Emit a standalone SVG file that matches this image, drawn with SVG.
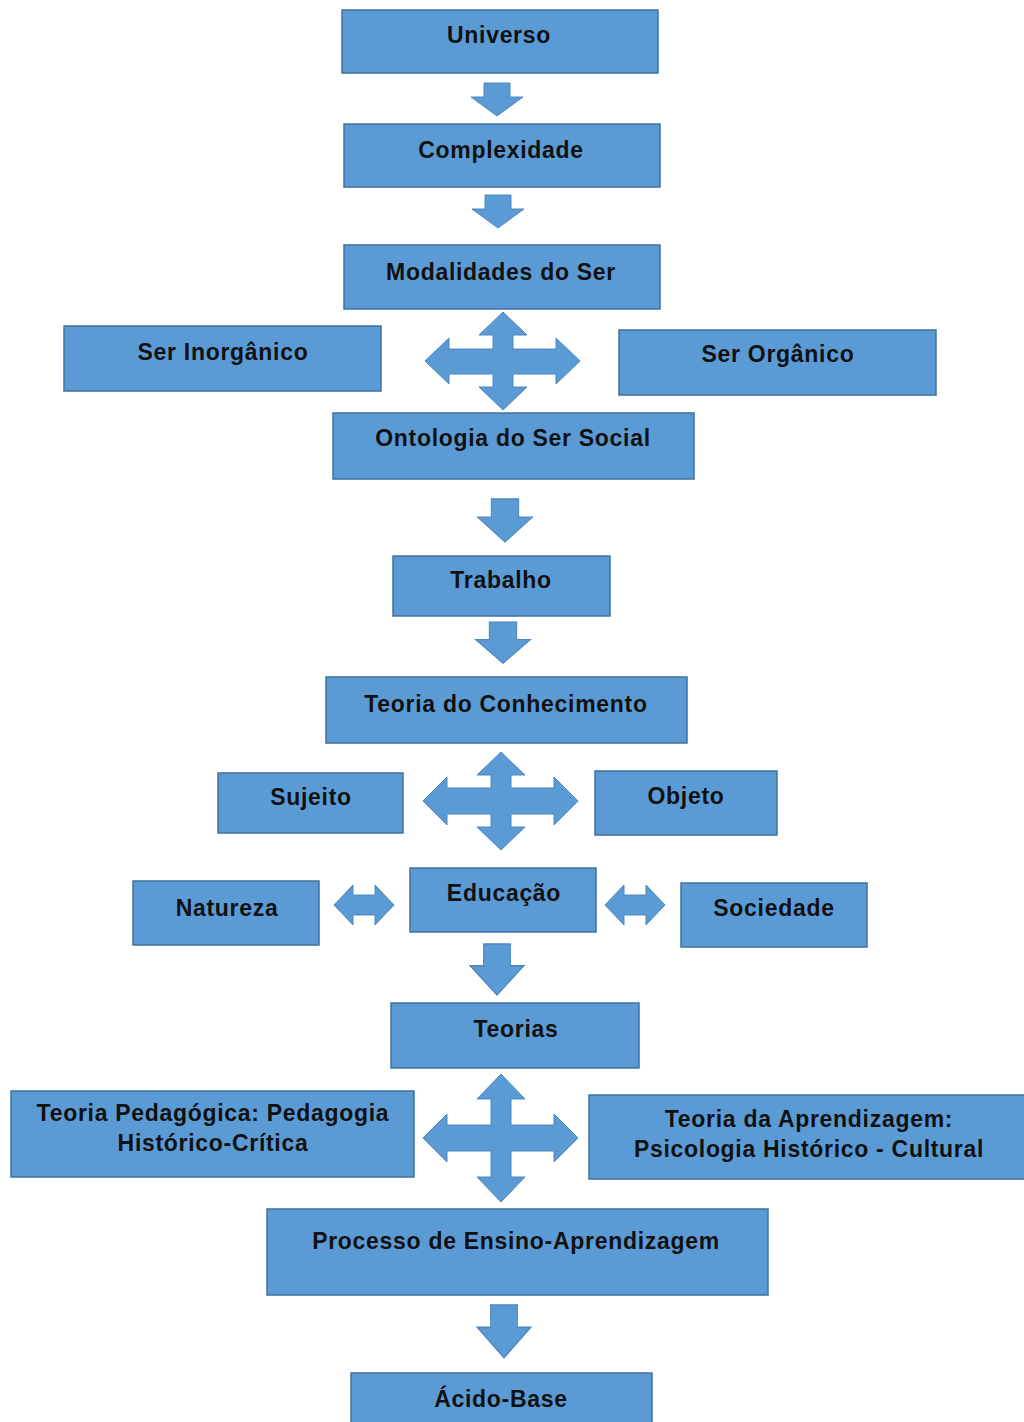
<svg xmlns="http://www.w3.org/2000/svg" width="1024" height="1422" viewBox="0 0 1024 1422">
  <style>
    .box { fill: #5B9BD5; stroke: #41719C; stroke-width: 1.5; }
    .arrow { fill: #5B9BD5; stroke: #4F87BD; stroke-width: 1; stroke-linejoin: miter; }
    .label { font-family: "Liberation Sans", Arial, sans-serif; font-weight: bold; font-size: 23px; letter-spacing: 0.7px; fill: #111; text-anchor: middle; }
  </style>
  <defs>
    <!-- block arrow pointing down, origin at shaft top centre -->
    <path id="down" d="M-13,0 H13 V14 H26 L0,33 L-26,14 H-13 Z"/>
    <!-- double-headed horizontal block arrow, origin at centre -->
    <path id="lr" d="M-30,0 L-11,-20 V-10 H11 V-20 L30,0 L11,20 V10 H-11 V20 Z"/>
  </defs>
  <rect width="1024" height="1422" fill="#ffffff"/>

  <g id="connectors">
    <use href="#down" class="arrow" x="497" y="83"/>
    <use href="#down" class="arrow" x="498" y="195"/>
    <!-- four-way arrow between Modalidades, Inorgânico, Orgânico and Ontologia -->
    <path class="arrow" d="M503,312 L527,335 H513 V349 H556 V338 L580,361 L556,384 V374 H513 V387 H527 L503,410 L479,387 H493 V374 H449 V384 L425,361 L449,338 V349 H493 V335 H479 Z"/>
    <g transform="translate(505,499) scale(1.05,1.3)"><use href="#down" class="arrow"/></g>
    <g transform="translate(503,622) scale(1.05,1.25)"><use href="#down" class="arrow"/></g>
    <!-- four-way arrow between Conhecimento, Sujeito, Objeto and Educação -->
    <path class="arrow" d="M501,752 L525,775 H511 V788 H554 V777 L578,801 L554,825 V814 H511 V827 H525 L501,850 L477,827 H491 V814 H447 V825 L423,801 L447,777 V788 H491 V775 H477 Z"/>
    <use href="#lr" class="arrow" x="364" y="905"/>
    <use href="#lr" class="arrow" x="635" y="905"/>
    <g transform="translate(497,944) scale(1.03,1.55)"><use href="#down" class="arrow"/></g>
    <!-- four-way arrow between Teorias, the two theory boxes and Processo -->
    <path class="arrow" d="M501,1074 L525,1099 H511 V1125 H554 V1114 L578,1138 L554,1162 V1151 H511 V1177 H525 L501,1202 L477,1177 H491 V1151 H447 V1162 L423,1138 L447,1114 V1125 H491 V1099 H477 Z"/>
    <g transform="translate(504,1305) scale(1.03,1.6)"><use href="#down" class="arrow"/></g>
  </g>

  <g id="universo"><rect class="box" x="342" y="10" width="316" height="63"/><text class="label" x="499" y="43">Universo</text></g>
  <g id="complexidade"><rect class="box" x="344" y="124" width="316" height="63"/><text class="label" x="501" y="158">Complexidade</text></g>
  <g id="modalidades"><rect class="box" x="344" y="245" width="316" height="64"/><text class="label" x="501" y="280">Modalidades do Ser</text></g>
  <g id="ser-inorganico"><rect class="box" x="64" y="326" width="317" height="65"/><text class="label" x="223" y="360">Ser Inorgânico</text></g>
  <g id="ser-organico"><rect class="box" x="619" y="330" width="317" height="65"/><text class="label" x="778" y="362">Ser Orgânico</text></g>
  <g id="ontologia"><rect class="box" x="333" y="413" width="361" height="66"/><text class="label" x="513" y="446">Ontologia do Ser Social</text></g>
  <g id="trabalho"><rect class="box" x="393" y="556" width="217" height="60"/><text class="label" x="501" y="588">Trabalho</text></g>
  <g id="conhecimento"><rect class="box" x="326" y="677" width="361" height="66"/><text class="label" x="506" y="712">Teoria do Conhecimento</text></g>
  <g id="sujeito"><rect class="box" x="218" y="773" width="185" height="60"/><text class="label" x="311" y="805">Sujeito</text></g>
  <g id="objeto"><rect class="box" x="595" y="771" width="182" height="64"/><text class="label" x="686" y="804">Objeto</text></g>
  <g id="natureza"><rect class="box" x="133" y="881" width="186" height="64"/><text class="label" x="227" y="916">Natureza</text></g>
  <g id="educacao"><rect class="box" x="410" y="868" width="186" height="64"/><text class="label" x="504" y="901">Educação</text></g>
  <g id="sociedade"><rect class="box" x="681" y="883" width="186" height="64"/><text class="label" x="774" y="916">Sociedade</text></g>
  <g id="teorias"><rect class="box" x="391" y="1003" width="248" height="65"/><text class="label" x="516" y="1037">Teorias</text></g>
  <g id="teoria-pedagogica"><rect class="box" x="11" y="1091" width="403" height="86"/><text class="label" x="213" y="1121">Teoria Pedagógica: Pedagogia</text><text class="label" x="213" y="1151">Histórico-Crítica</text></g>
  <g id="teoria-aprendizagem"><rect class="box" x="589" y="1095" width="438" height="84"/><text class="label" x="809" y="1127">Teoria da Aprendizagem:</text><text class="label" x="809" y="1157">Psicologia Histórico - Cultural</text></g>
  <g id="processo"><rect class="box" x="267" y="1209" width="501" height="86"/><text class="label" x="516" y="1249">Processo de Ensino-Aprendizagem</text></g>
  <g id="acido-base"><rect class="box" x="351" y="1373" width="301" height="60"/><text class="label" x="501" y="1407">Ácido-Base</text></g>
</svg>
